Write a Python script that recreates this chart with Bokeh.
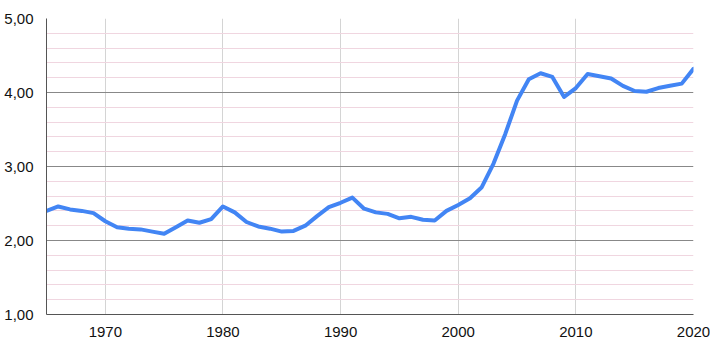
from bokeh.plotting import figure
from bokeh.models import FixedTicker, Range1d
from bokeh.embed import file_html
from bokeh.resources import INLINE

years = list(range(1965, 2021))
values = [2.40, 2.46, 2.42, 2.40, 2.37, 2.26, 2.18, 2.16, 2.15, 2.12,
          2.09, 2.18, 2.27, 2.24, 2.29, 2.46, 2.38, 2.25, 2.19, 2.16,
          2.12, 2.13, 2.20, 2.33, 2.45, 2.51, 2.58, 2.43, 2.38, 2.36,
          2.30, 2.32, 2.28, 2.27, 2.40, 2.48, 2.57, 2.72, 3.04, 3.44,
          3.89, 4.18, 4.26, 4.21, 3.94, 4.06, 4.25, 4.22, 4.19, 4.09,
          4.02, 4.01, 4.06, 4.09, 4.12, 4.32]

y_ticks = [1, 2, 3, 4, 5]
y_labels = ["1,00", "2,00", "3,00", "4,00", "5,00"]
y_minor = [1.2, 1.4, 1.6, 1.8, 2.2, 2.4, 2.6, 2.8, 3.2, 3.4, 3.6, 3.8,
           4.2, 4.4, 4.6, 4.8]
x_ticks = [1970, 1980, 1990, 2000, 2010, 2020]

p = figure(width=710, height=351, output_backend="svg", toolbar_location=None,
           x_range=Range1d(1965, 2020), y_range=Range1d(1, 5),
           min_border_left=46, min_border_right=17, min_border_top=18,
           min_border_bottom=37)
p.outline_line_color = None
p.background_fill_color = "white"
p.border_fill_color = "white"

yticker = FixedTicker(ticks=y_ticks, minor_ticks=y_minor)
p.yaxis.ticker = yticker
p.ygrid.ticker = yticker
p.yaxis.major_label_overrides = dict(zip(y_ticks, y_labels))
p.xaxis.ticker = FixedTicker(ticks=x_ticks)

for ax in (p.xaxis, p.yaxis):
    ax.major_tick_line_color = None
    ax.minor_tick_line_color = None
    ax.axis_line_color = "#555555"
    ax.axis_line_width = 1
    ax.major_label_text_font = "Liberation Sans"
    ax.major_label_text_font_size = "15px"
    ax.major_label_text_color = "#111111"
p.yaxis.major_label_standoff = 7
p.xaxis.major_label_standoff = 6

p.ygrid.grid_line_color = "#888888"
p.ygrid.grid_line_width = 1
p.ygrid.minor_grid_line_color = "#f0d6e0"
p.ygrid.minor_grid_line_width = 1
p.xgrid.grid_line_color = "#d4d4d4"
p.xgrid.grid_line_width = 1

p.line(years, values, line_color="#4285f4", line_width=4, line_join="round",
       line_cap="round")

open("out.html", "w").write(file_html(p, INLINE))
